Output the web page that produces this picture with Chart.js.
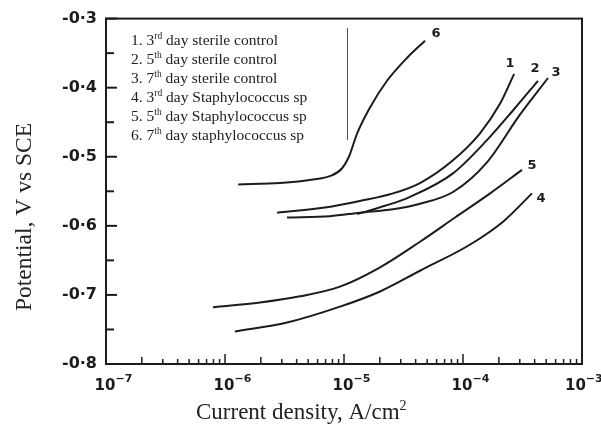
<!DOCTYPE html>
<html>
<head>
<meta charset="utf-8">
<script src="https://cdn.jsdelivr.net/npm/chart.js@4.4.0/dist/chart.umd.min.js"></script>
<style>
  html, body { margin: 0; padding: 0; background: #fff; }
</style>
</head>
<body>
<canvas id="myChart" width="601" height="425"></canvas>
<script>
// current density (A/cm2) and potential (V vs SCE)
const curve1I = [2.74e-6, 7.2e-6, 1.36e-5, 2.58e-5, 4.35e-5, 8.24e-5, 1.39e-4, 2.05e-4, 2.69e-4];
const curve1V = [-0.581, -0.573, -0.564, -0.553, -0.538, -0.505, -0.466, -0.423, -0.380];

const curve2I = [1.29e-5, 2.21e-5, 3.59e-5, 8.24e-5, 1.59e-4, 2.63e-4, 4.27e-4];
const curve2V = [-0.583, -0.571, -0.558, -0.524, -0.476, -0.433, -0.390];

const curve3I = [3.32e-6, 7.62e-6, 1.36e-5, 2.58e-5, 4.35e-5, 8.24e-5, 1.59e-4, 3.01e-4, 5.18e-4];
const curve3V = [-0.588, -0.586, -0.581, -0.576, -0.568, -0.551, -0.508, -0.439, -0.386];

const curve4I = [1.21e-6, 3.32e-6, 9.25e-6, 2.01e-5, 4.35e-5, 1.15e-4, 2.17e-4, 3.80e-4];
const curve4V = [-0.753, -0.740, -0.717, -0.695, -0.665, -0.627, -0.594, -0.553];

const curve5I = [7.93e-7, 1.97e-6, 4.27e-6, 9.25e-6, 2.01e-5, 4.35e-5, 8.57e-5, 1.69e-4, 3.13e-4];
const curve5V = [-0.718, -0.711, -0.702, -0.688, -0.660, -0.623, -0.588, -0.553, -0.519];

const curve6I = [1.29e-6, 2.90e-6, 5.48e-6, 7.9e-6, 9.6e-6, 1.1e-5, 1.29e-5, 1.65e-5, 2.30e-5, 3.38e-5, 4.80e-5];
const curve6V = [-0.540, -0.538, -0.533, -0.527, -0.517, -0.500, -0.466, -0.429, -0.390, -0.357, -0.332];

const curveNames = ["1", "2", "3", "4", "5", "6"];
const curveI = [curve1I, curve2I, curve3I, curve4I, curve5I, curve6I];
const curveV = [curve1V, curve2V, curve3V, curve4V, curve5V, curve6V];

// legend text
const legendDay = ["3", "5", "7", "3", "5", "7"];
const legendSup = ["rd", "th", "th", "rd", "th", "th"];
const legendText = [
  " day sterile control",
  " day sterile control",
  " day sterile control",
  " day Staphylococcus sp",
  " day Staphylococcus sp",
  " day staphylococcus sp",
];

// axis ticks
const decades = [1e-7, 1e-6, 1e-5, 1e-4, 1e-3];
const decadeExp = ["\u22127", "\u22126", "\u22125", "\u22124", "\u22123"];
const xTitle = "Current density, A/cm";
const yTitle = "Potential, V vs SCE";

// where each curve number sits relative to the curve's last point (px)
const nameOffset = [[-4, -10], [-3, -12], [8, -5], [9, 5], [10, -4], [11, -7]];

const ink = "#1c1c1c";

let datasets = [];
for (let i = 0; i < curveNames.length; i++) {
  let pts = [];
  for (let j = 0; j < curveI[i].length; j++) {
    pts.push({ x: curveI[i][j], y: curveV[i][j] });
  }
  datasets.push({
    label: curveNames[i],
    data: pts,
    showLine: true,
    borderColor: ink,
    borderWidth: 2,
    pointRadius: 0,
    cubicInterpolationMode: "monotone",
  });
}

function supText(ctx, x, y, base, sup, font, supFont, rise) {
  ctx.font = font;
  ctx.fillText(base, x, y);
  let w = ctx.measureText(base).width;
  ctx.font = supFont;
  ctx.fillText(sup, x + w, y - rise);
  return x + w + ctx.measureText(sup).width;
}

const extras = {
  id: "extras",
  afterDraw(chart) {
    const ctx = chart.ctx;
    const a = chart.chartArea;
    const xs = chart.scales.x;
    const ys = chart.scales.y;
    ctx.save();
    ctx.strokeStyle = ink;
    ctx.fillStyle = ink;

    // frame
    ctx.lineWidth = 2;
    ctx.strokeRect(a.left, a.top, a.right - a.left, a.bottom - a.top);

    // y ticks, inward
    for (let k = 0; k <= 10; k++) {
      let v = -0.8 + k * 0.05;
      let py = ys.getPixelForValue(v);
      let len = k % 2 === 0 ? 11 : 8;
      ctx.beginPath();
      ctx.moveTo(a.left - 1, py);
      ctx.lineTo(a.left + len, py);
      ctx.stroke();
    }

    // x ticks, inward
    ctx.lineWidth = 1.5;
    for (let d = 0; d < decades.length - 1; d++) {
      for (let m = 2; m <= 10; m++) {
        let px = xs.getPixelForValue(decades[d] * m);
        let len = m === 10 ? 10 : m === 2 ? 7 : 5;
        ctx.beginPath();
        ctx.moveTo(px, a.bottom);
        ctx.lineTo(px, a.bottom - len);
        ctx.stroke();
      }
    }

    // x tick labels 10^n
    ctx.textBaseline = "alphabetic";
    ctx.textAlign = "left";
    for (let d = 0; d < decades.length; d++) {
      let px = xs.getPixelForValue(decades[d]);
      ctx.font = "bold 15px 'DejaVu Sans'";
      let w = ctx.measureText("10").width;
      let x0 = px - 1 - w / 2;
      if (x0 + 34 > 599) x0 = 599 - 34;
      supText(ctx, x0, a.bottom + 26, "10", decadeExp[d],
        "bold 15px 'DejaVu Sans'", "bold 11px 'DejaVu Sans'", 8);
    }

    // axis titles
    ctx.fillStyle = "#222";
    ctx.textAlign = "left";
    supText(ctx, 196, 419, xTitle, "2", "23px 'Liberation Serif'", "14px 'Liberation Serif'", 9);
    ctx.save();
    ctx.translate(31, 217);
    ctx.rotate(-Math.PI / 2);
    ctx.font = "23.5px 'Liberation Serif'";
    ctx.textAlign = "center";
    ctx.fillText(yTitle, 0, 0);
    ctx.restore();

    // legend text block
    ctx.fillStyle = "#222";
    ctx.textAlign = "left";
    for (let i = 0; i < curveNames.length; i++) {
      let y = 45 + i * 19;
      let x = supText(ctx, 131, y, curveNames[i] + ". " + legendDay[i], legendSup[i],
        "15.5px 'Liberation Serif'", "9.5px 'Liberation Serif'", 6);
      ctx.font = "15.5px 'Liberation Serif'";
      ctx.fillText(legendText[i], x, y);
    }
    ctx.strokeStyle = "#555";
    ctx.lineWidth = 1;
    ctx.beginPath();
    ctx.moveTo(347.5, 28);
    ctx.lineTo(347.5, 140);
    ctx.stroke();

    // curve numbers at the curve ends
    ctx.fillStyle = ink;
    ctx.font = "bold 13px 'DejaVu Sans'";
    ctx.textAlign = "center";
    ctx.textBaseline = "middle";
    for (let i = 0; i < curveNames.length; i++) {
      let n = curveI[i].length - 1;
      let px = xs.getPixelForValue(curveI[i][n]) + nameOffset[i][0];
      let py = ys.getPixelForValue(curveV[i][n]) + nameOffset[i][1];
      ctx.fillText(curveNames[i], px, py);
    }
    ctx.restore();
  },
};

new Chart("myChart", {
  type: "scatter",
  data: { datasets: datasets },
  options: {
    responsive: false,
    animation: false,
    layout: { padding: { left: 0, right: 19, top: 17, bottom: 0 } },
    plugins: {
      legend: { display: false },
      tooltip: { enabled: false },
    },
    scales: {
      x: {
        type: "logarithmic",
        min: 1e-7,
        max: 1e-3,
        grid: { display: false, drawTicks: false },
        border: { display: false },
        ticks: { display: false },
        afterBuildTicks: (s) => { s.ticks = decades.map((v) => ({ value: v })); },
        afterFit: (s) => { s.height = 61; },
      },
      y: {
        min: -0.8,
        max: -0.3,
        grid: { display: false, drawTicks: false },
        border: { display: false },
        ticks: {
          stepSize: 0.1,
          padding: 9,
          color: ink,
          font: { family: "DejaVu Sans", size: 16, weight: "bold" },
          callback: (v) => v.toFixed(1).replace(".", "\u00b7"),
        },
        afterFit: (s) => { s.width = 106; },
      },
    },
  },
  plugins: [extras],
});
</script>
</body>
</html>
